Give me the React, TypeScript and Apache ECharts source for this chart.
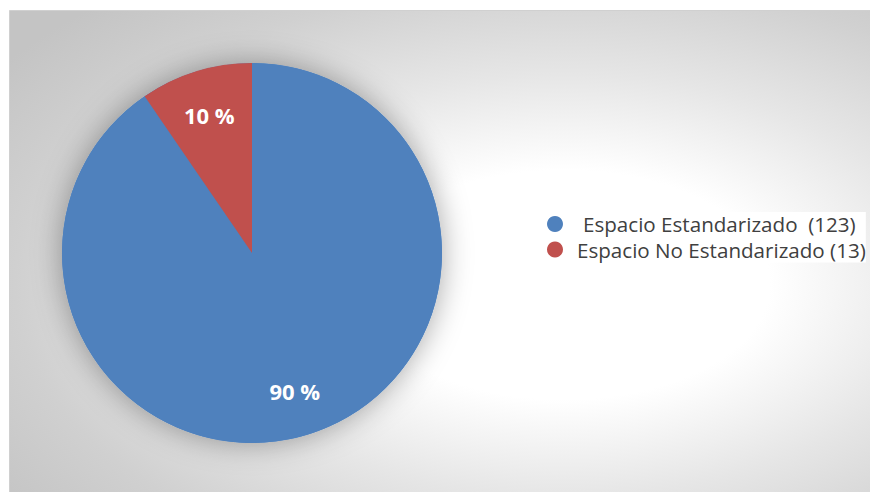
import React, { useEffect, useRef } from "react";
import * as echarts from "echarts";

const categories = ["Espacio Estandarizado  (123)", "Espacio No Estandarizado (13)"];
const counts = [123, 13];
const colors = ["#4f81bd", "#c0504d"];

export default function App() {
  const ref = useRef<HTMLDivElement>(null);
  useEffect(() => {
    if (!ref.current) return;
    const chart = echarts.init(ref.current, null, { renderer: "svg" });
    const data = categories.map((name, i) => ({
      name,
      value: counts[i],
      itemStyle: { color: colors[i] },
    }));
    chart.setOption({
      animation: false,
      graphic: [
        {
          type: "rect",
          z: -10,
          silent: true,
          shape: { x: 9.5, y: 10.5, width: 880, height: 490 },
          style: {
            fill: new echarts.graphic.RadialGradient(0.63, 0.56, 0.78, [
              { offset: 0, color: "#ffffff" },
              { offset: 0.3, color: "#ffffff" },
              { offset: 0.55, color: "#e6e6e6" },
              { offset: 0.8, color: "#d0d0d0" },
              { offset: 1, color: "#c4c4c4" },
            ]),
            stroke: "#d0d0d0",
            lineWidth: 1,
          },
        },
      ],
      legend: {
        orient: "vertical",
        left: 535,
        top: 212,
        padding: [1, 0, 2, 12],
        backgroundColor: "#ffffff",
        icon: "circle",
        itemWidth: 16,
        itemHeight: 16,
        itemGap: 3.5,
        selectedMode: false,
        textStyle: {
          fontFamily: "Open Sans",
          fontSize: 20.6,
          lineHeight: 22,
          color: "#404040",
        },
        data: [
          { name: categories[0], textStyle: { padding: [0, 0, 0, 15] } },
          { name: categories[1], textStyle: { padding: [0, 0, 0, 9] } },
        ],
      },
      series: [
        {
          type: "pie",
          z: 1,
          silent: true,
          center: [252, 253],
          radius: [0, 190],
          label: { show: false },
          labelLine: { show: false },
          legendHoverLink: false,
          data: [{ name: "_shadow", value: 1 }],
          itemStyle: {
            color: "#4f81bd",
            shadowBlur: 30,
            shadowColor: "rgba(0,0,0,0.35)",
          },
        },
        {
          type: "pie",
          z: 2,
          silent: true,
          center: [252, 253],
          radius: [0, 190],
          startAngle: 90,
          clockwise: true,
          label: { show: false },
          labelLine: { show: false },
          data,
        },
        {
          type: "pie",
          z: 3,
          silent: true,
          center: [252, 253],
          radius: [93, 190],
          startAngle: 90,
          clockwise: true,
          itemStyle: { color: "rgba(0,0,0,0)" },
          labelLine: { show: false },
          label: {
            show: true,
            position: "inside",
            color: "#ffffff",
            fontFamily: "Open Sans",
            fontWeight: "bold",
            fontSize: 22,
            formatter: (p: any) => Math.round(p.percent) + " %",
          },
          data: categories.map((name, i) => ({ name, value: counts[i] })),
        },
      ],
    });
    return () => chart.dispose();
  }, []);
  return (
    <div
      ref={ref}
      style={{ position: "absolute", left: 0, top: 0, width: 870, height: 492 }}
    />
  );
}
